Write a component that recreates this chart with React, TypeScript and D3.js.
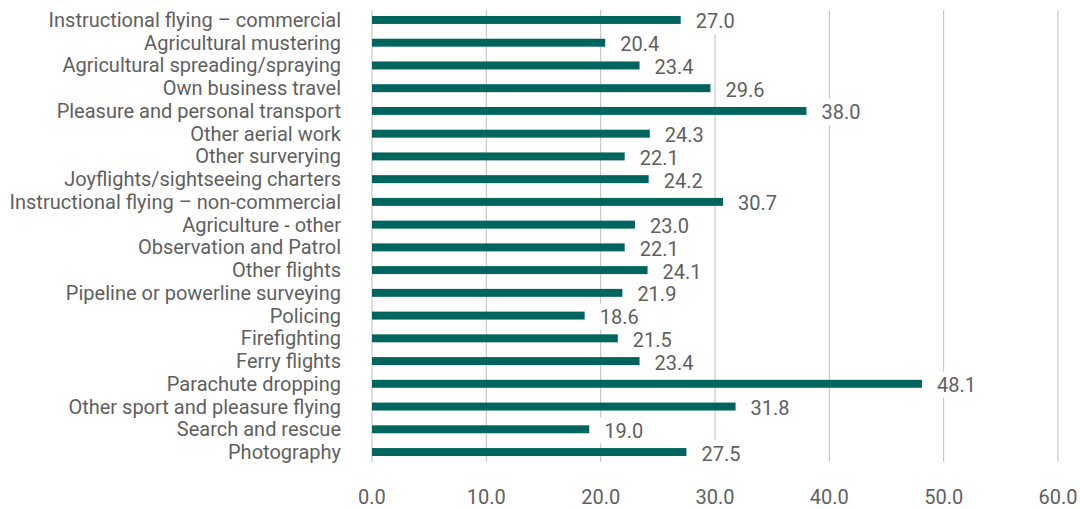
import React from "react";
import * as d3 from "d3";

const categories = [
  "Instructional flying – commercial",
  "Agricultural mustering",
  "Agricultural spreading/spraying",
  "Own business travel",
  "Pleasure and personal transport",
  "Other aerial work",
  "Other surverying",
  "Joyflights/sightseeing charters",
  "Instructional flying – non-commercial",
  "Agriculture - other",
  "Observation and Patrol",
  "Other flights",
  "Pipeline or powerline surveying",
  "Policing",
  "Firefighting",
  "Ferry flights",
  "Parachute dropping",
  "Other sport and pleasure flying",
  "Search and rescue",
  "Photography",
];
const values = [27.0, 20.4, 23.4, 29.6, 38.0, 24.3, 22.1, 24.2, 30.7, 23.0, 22.1, 24.1, 21.9, 18.6, 21.5, 23.4, 48.1, 31.8, 19.0, 27.5];
const ticks = [0, 10, 20, 30, 40, 50, 60];

const W = 1080;
const H = 509;
const FONT = "Roboto, 'Noto Sans', sans-serif";
const TEXT = "#5f5f5f";

export default function App() {
  const x = d3.scaleLinear().domain([0, 60]).range([372, 1058]);
  const y = d3.scaleBand<string>().domain(categories).range([8.6, 463.4]).paddingInner(0.65).paddingOuter(0.325);
  const bw = y.bandwidth();
  const fmt = d3.format(".1f");
  return (
    <svg width={W} height={H} style={{ position: "absolute", left: 0, top: 0 }} fontFamily={FONT}>
      <rect width={W} height={H} fill="#fff" />
      {ticks.map((t) => (
        <line key={t} x1={x(t)} x2={x(t)} y1={10} y2={462} stroke="#bfbfbf" strokeWidth={1} />
      ))}
      {categories.map((c, i) => {
        const cy = (y(c) as number) + bw / 2;
        return (
          <g key={c}>
            <rect x={x(0)} y={cy - bw / 2} width={x(values[i]) - x(0)} height={bw} fill="#00655f" />
            <text x={341} y={cy + 7} textAnchor="end" fontSize={20} fill={TEXT}>
              {c}
            </text>
          </g>
        );
      })}
      {categories.map((c, i) => {
        const cy = (y(c) as number) + bw / 2;
        const lx = x(values[i]) + 15;
        return (
          <g key={c + "lbl"}>
            <rect x={lx - 6} y={cy - 12} width={52} height={26} fill="#fff" />
            <text x={lx} y={cy + 8.5} fontSize={20} fill={TEXT}>
              {fmt(values[i])}
            </text>
          </g>
        );
      })}
      {ticks.map((t) => (
        <text key={"t" + t} x={x(t)} y={504} textAnchor="middle" fontSize={20} fill={TEXT}>
          {fmt(t)}
        </text>
      ))}
    </svg>
  );
}
